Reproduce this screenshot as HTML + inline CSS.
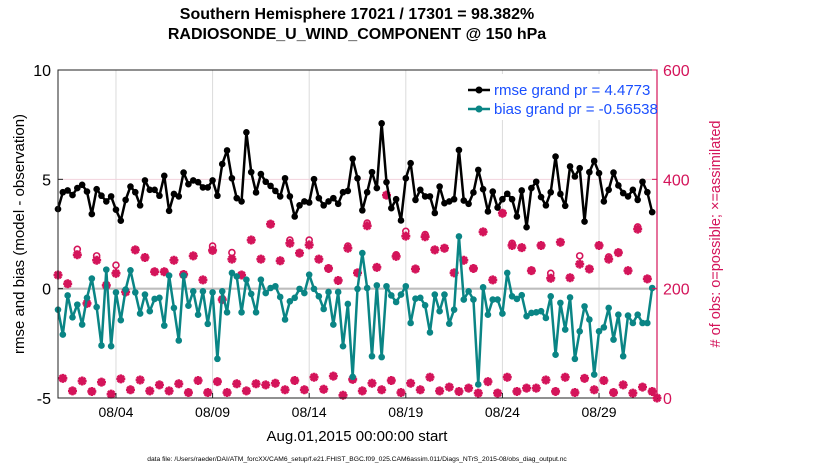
<!DOCTYPE html>
<html><head><meta charset="utf-8"><style>
body{margin:0;background:#fff;}
svg{display:block;font-family:"Liberation Sans",sans-serif;}
</style></head><body>
<svg id="chart" width="830" height="470" viewBox="0 0 830 470">
<rect x="0" y="0" width="830" height="470" fill="#fff"/>
<text x="357" y="19" text-anchor="middle" font-size="16" font-weight="bold">Southern Hemisphere 17021 / 17301 = 98.382%</text>
<text x="357" y="39" text-anchor="middle" font-size="16" font-weight="bold">RADIOSONDE_U_WIND_COMPONENT @ 150 hPa</text>
<g id="grid"></g>
<g id="marks"></g>
<rect x="58" y="70" width="599" height="328" fill="none" stroke="#222" stroke-width="1"/>
<line x1="657" y1="70" x2="657" y2="398" stroke="#d4145a" stroke-width="1.2"/>
<g id="axes"></g>
<text transform="translate(24,234) rotate(-90)" text-anchor="middle" font-size="15">rmse and bias (model - observation)</text>
<text transform="translate(720,234) rotate(-90)" text-anchor="middle" font-size="14.5" fill="#d4145a"># of obs: o=possible; ×=assimilated</text>
<text x="357" y="441" text-anchor="middle" font-size="15">Aug.01,2015 00:00:00 start</text>
<text x="357" y="461" text-anchor="middle" font-size="6.7">data file: /Users/raeder/DAI/ATM_forcXX/CAM6_setup/f.e21.FHIST_BGC.f09_025.CAM6assim.011/Diags_NTrS_2015-08/obs_diag_output.nc</text>
<g>
<rect x="462" y="74" width="192" height="46" fill="#fff"/>
<line x1="468" y1="90" x2="490" y2="90" stroke="#000" stroke-width="2.5"/>
<circle cx="479" cy="90" r="3.5" fill="#000"/>
<text x="494" y="95" font-size="15" fill="#1a4fff">rmse grand pr = 4.4773</text>
<line x1="468" y1="109" x2="490" y2="109" stroke="#0a8585" stroke-width="2.5"/>
<circle cx="479" cy="109" r="3.5" fill="#0a8585"/>
<text x="494" y="114" font-size="15" fill="#1a4fff">bias grand pr = -0.56538</text>
</g>
</svg>
<script>
const leftTicks=[10,5,0,-5];
const rightTicks=[600,400,200,0];
const dateTicks=["08/04","08/09","08/14","08/19","08/24","08/29"];
const dateTickDays=[3,8,13,18,23,28];
const rmse=[3.64,4.41,4.49,4.28,4.60,4.75,4.44,3.41,4.55,4.25,3.99,4.22,3.61,3.11,4.06,4.67,4.41,3.81,4.95,4.52,4.52,4.25,5.16,3.56,4.33,4.22,5.31,4.78,4.95,4.87,4.63,4.63,4.95,4.25,5.70,6.32,5.05,4.14,3.99,7.15,5.33,4.40,
5.24,4.89,4.70,4.47,4.22,5.05,4.22,3.30,3.81,3.99,3.94,5.01,4.14,3.81,3.99,4.14,3.88,4.41,4.47,5.94,5.05,3.58,4.41,5.33,4.60,7.56,4.87,3.68,4.09,3.12,5.05,5.74,4.06,4.52,4.22,4.22,3.46,4.67,3.91,3.99,4.09,6.34,
4.03,3.88,4.40,5.43,4.55,3.53,4.44,3.71,4.09,4.34,4.09,3.30,4.49,2.81,4.60,4.89,4.19,3.81,4.41,6.04,4.33,3.79,5.59,5.13,5.51,3.07,5.33,5.84,5.28,3.99,4.52,5.31,4.72,4.37,4.22,4.52,4.06,4.89,4.41,3.50];
const bias=[-0.96,-2.10,-0.31,-1.31,-0.73,-1.64,-0.42,0.46,-0.84,-2.60,0.87,-2.63,-0.17,-1.44,-0.04,0.84,-0.17,-1.14,-0.27,-1.03,-0.47,-0.42,-1.69,0.60,-0.88,-2.37,0.60,-0.78,-0.12,-1.19,-0.12,-1.61,-0.17,-3.21,-0.12,-1.08,0.72,0.56,-1.08,0.41,-0.24,-1.08,
0.41,-0.20,0.03,0.11,-0.38,-1.41,-0.58,-0.42,-0.01,-0.20,0.64,-0.01,-0.35,-0.93,-0.15,-1.64,-0.15,-2.63,-0.70,-4.03,-0.01,1.63,0.03,-3.09,0.15,-3.13,0.11,-0.31,-0.61,-0.27,0.11,-1.57,-0.46,-0.42,-0.76,-2.00,-0.27,-1.03,-0.27,-1.60,-0.96,2.39,
-0.50,-0.12,-0.50,-4.38,0.06,-1.19,-0.50,-0.50,-1.14,0.72,-0.35,-0.47,-0.30,-1.26,-1.11,-1.08,-1.03,-1.34,-0.35,-3.02,-0.65,-1.87,-0.40,-3.21,-1.95,-0.81,-1.41,-3.93,-1.95,-1.77,-0.88,-2.33,-1.19,-3.09,-1.23,-1.57,-1.19,-1.57,-1.57,0.03];
const assimilated=[225,36,209,13,262,31,173,12,252,29,206,7,228,35,194,15,271,33,257,13,231,24,231,13,252,26,226,10,260,32,216,10,270,30,180,10,254,26,225,13,289,26,
254,24,318,27,251,15,283,32,265,15,280,38,254,16,237,40,215,5,274,34,229,13,315,27,239,15,371,32,259,10,296,27,236,15,295,38,271,13,274,20,229,12,
252,18,237,9,304,30,216,9,338,38,279,12,275,18,233,18,279,33,219,12,285,38,220,10,245,36,236,15,279,32,254,10,266,24,233,9,309,20,218,12,0];
const possible=[225,36,209,13,272,31,173,12,260,29,206,7,243,35,194,15,271,33,257,13,231,24,231,13,252,26,226,10,260,32,216,10,278,30,180,10,266,26,225,13,289,26,
254,24,318,27,251,15,289,32,265,15,289,38,254,16,237,40,215,5,278,34,229,13,320,27,239,15,371,32,262,10,305,27,236,15,299,38,271,13,274,20,229,12,
252,18,237,9,304,30,216,9,338,38,283,12,275,18,233,18,279,33,228,12,285,38,220,10,260,36,236,15,279,32,258,10,266,24,233,9,313,20,218,12,0];

const NS="http://www.w3.org/2000/svg";
const X0=58,X1=657,Y0=70,Y1=398;
const xIdx=i=>X0+i*(X1-X0)/124;
const xDay=d=>X0+d*4*(X1-X0)/124;
const yL=v=>Y1-(v+5)*(Y1-Y0)/15;
const yR=v=>Y1-v*(Y1-Y0)/600;
function mk(tag,attrs,parent){const e=document.createElementNS(NS,tag);for(const k in attrs)e.setAttribute(k,attrs[k]);parent.appendChild(e);return e;}
const grid=document.getElementById('grid'),marks=document.getElementById('marks'),axes=document.getElementById('axes');
dateTickDays.forEach((d,i)=>{
 const g=mk('line',{x1:xDay(d),x2:xDay(d),y1:Y0,y2:Y1,stroke:'#dcdcdc','stroke-width':1},grid);
 
 
 const t=mk('line',{x1:xDay(d),x2:xDay(d),y1:Y1,y2:Y1-5,stroke:'#222'},axes);
 
 
 const l=mk('text',{x:xDay(d),y:Y1+19,'text-anchor':'middle','font-size':14},axes);
 l.textContent=dateTicks[i];
 
 
});
const pg=mk('line',{x1:X0,x2:X1,y1:yR(400),y2:yR(400),stroke:'#f2d3dd','stroke-width':1},grid);


const zl=mk('line',{x1:X0,x2:X1,y1:yL(0),y2:yL(0),stroke:'#bdbdbd','stroke-width':2.2},grid);


leftTicks.forEach(v=>{
 const l=mk('text',{x:51,y:yL(v)+6,'text-anchor':'end','font-size':16},axes);
 l.textContent=v;
 
 
 const t=mk('line',{x1:X0,x2:X0+5,y1:yL(v),y2:yL(v),stroke:'#222'},axes);
 
 
});
rightTicks.forEach(v=>{
 const l=mk('text',{x:663,y:yR(v)+6,'font-size':16,fill:'#d4145a'},axes);
 l.textContent=v;
 
 
 const t=mk('line',{x1:X1-5,x2:X1,y1:yR(v),y2:yR(v),stroke:'#d4145a'},axes);
 
 
});
const OC='#d4145a';
possible.forEach((v,i)=>{
 const x=xIdx(i),y=yR(v);
 const c=mk('circle',{cx:x,cy:y,r:3,fill:'none',stroke:OC,'stroke-width':1.6},marks);
 
 
});
assimilated.forEach((v,i)=>{
 const x=xIdx(i),y=yR(v);
 const s=mk('path',{d:`M${x-4.5} ${y}H${x+4.5}M${x} ${y-4.5}V${y+4.5}M${x-3.2} ${y-3.2}L${x+3.2} ${y+3.2}M${x-3.2} ${y+3.2}L${x+3.2} ${y-3.2}`,stroke:OC,'stroke-width':2.6},marks);
 
 
});
function series(vals,color,name){
 const pts=vals.map((v,i)=>xIdx(i)+','+yL(v)).join(' ');
 const pl=mk('polyline',{points:pts,fill:'none',stroke:color,'stroke-width':2.5,'stroke-linejoin':'round'},marks);
 
 
 vals.forEach((v,i)=>{
  const c=mk('circle',{cx:xIdx(i),cy:yL(v),r:3.3,fill:color},marks);
  
  
 });
}
series(bias,'#0a8585','bias');
series(rmse,'#000','rmse');
</script>
</body></html>
